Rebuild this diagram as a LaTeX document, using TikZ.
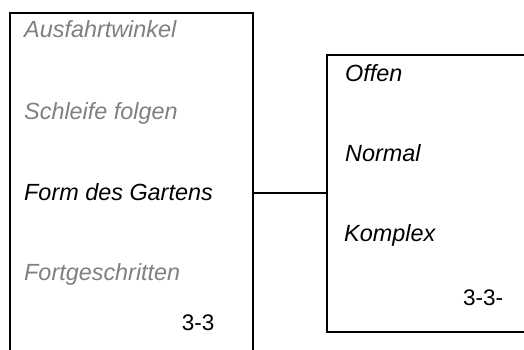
\documentclass[tikz,border=0pt]{standalone}
\usepackage{fontspec}
\setmainfont{Liberation Sans}
\begin{document}
\begin{tikzpicture}[x=1pt,y=1pt,
  box/.style={draw=black,line width=2.2pt,inner sep=0pt},
  lbl/.style={anchor=base west,inner sep=0pt,font=\fontsize{23.4}{27}\selectfont\itshape},
  dim/.style={lbl,text=black!50},
  num/.style={anchor=base west,inner sep=0pt,font=\fontsize{22.5}{27}\selectfont},
  conn/.style={draw=black,line width=1.4pt}]
\useasboundingbox (0,0) rectangle (524,349);
\clip (0,0) rectangle (524,349);
\fill[white] (0,0) rectangle (524,349);
\node[box,minimum width=243pt,minimum height=347pt] (lbox) at (131.5,162.5) {};
\node[box,minimum width=213pt,minimum height=277pt] (rbox) at (433.5,155.5) {};
\node[dim] (a1) at (24,311.3) {Ausfahrtwinkel};
\node[dim] (a2) at (24,229.7) {Schleife folgen};
\node[lbl] (a3) at (24,149) {Form des Gartens};
\node[dim] (a4) at (24,69) {Fortgeschritten};
\node[num] (a5) at (181.7,19) {3-3};
\node[lbl] (b1) at (345,267.3) {Offen};
\node[lbl] (b2) at (345,187.3) {Normal};
\node[lbl] (b3) at (344,107.3) {Komplex};
\node[num] (b4) at (463,44) {3-3-};
\coordinate (c) at (0,156);
\draw[conn] (lbox.east |- c) -- (rbox.west |- c);
\end{tikzpicture}
\end{document}
